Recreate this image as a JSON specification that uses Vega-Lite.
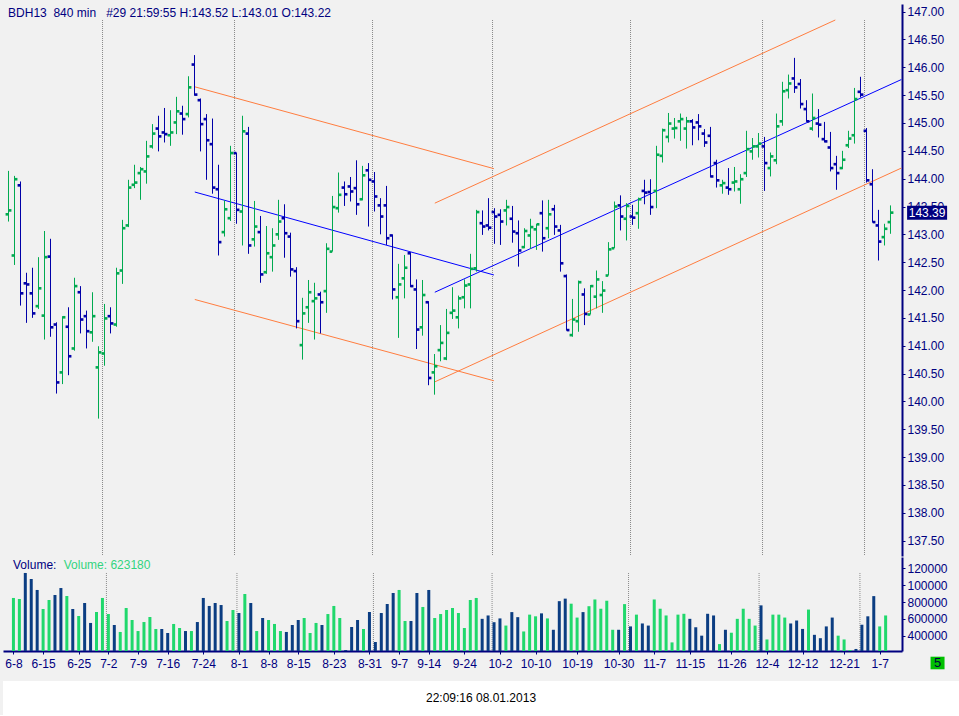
{
  "$schema": "https://vega.github.io/schema/vega-lite/v6.json",
  "background": "#f1f1f1",
  "padding": {"left": 3, "top": 4, "right": 0, "bottom": 0},
  "config": {
    "view": {"stroke": null},
    "font": "Liberation Sans",
    "axis": {
      "labelFont": "Liberation Sans",
      "labelFontSize": 12,
      "labelColor": "#000080",
      "labelFlush": false,
      "domainColor": "#000080",
      "domainWidth": 2,
      "tickColor": "#000080",
      "tickSize": 3,
      "grid": false
    }
  },
  "datasets": {
    "bars": [
      {"i":0,"o":143.36,"h":144.14,"l":143.23,"c":143.43,"v":848000,"dir":"u"},
      {"i":1,"o":142.62,"h":144.05,"l":142.45,"c":143.99,"v":836000,"dir":"u"},
      {"i":2,"o":143.88,"h":143.95,"l":141.72,"c":141.94,"v":1145000,"dir":"d"},
      {"i":3,"o":142.12,"h":142.31,"l":141.41,"c":142.10,"v":1073000,"dir":"d"},
      {"i":4,"o":141.94,"h":142.40,"l":141.50,"c":141.58,"v":943000,"dir":"d"},
      {"i":5,"o":141.71,"h":142.59,"l":141.66,"c":142.03,"v":717000,"dir":"u"},
      {"i":6,"o":141.54,"h":143.06,"l":141.11,"c":142.59,"v":824000,"dir":"u"},
      {"i":7,"o":142.60,"h":142.92,"l":141.16,"c":141.33,"v":883000,"dir":"d"},
      {"i":8,"o":141.38,"h":141.42,"l":140.14,"c":140.34,"v":966000,"dir":"d"},
      {"i":9,"o":140.52,"h":141.53,"l":140.31,"c":141.51,"v":871000,"dir":"u"},
      {"i":10,"o":141.34,"h":141.69,"l":140.47,"c":140.81,"v":717000,"dir":"d"},
      {"i":11,"o":140.95,"h":142.22,"l":140.91,"c":142.07,"v":634000,"dir":"u"},
      {"i":12,"o":141.96,"h":142.07,"l":141.22,"c":141.47,"v":788000,"dir":"d"},
      {"i":13,"o":141.53,"h":141.63,"l":140.95,"c":141.26,"v":551000,"dir":"d"},
      {"i":14,"o":141.24,"h":141.96,"l":141.07,"c":141.53,"v":681000,"dir":"u"},
      {"i":15,"o":140.61,"h":140.99,"l":139.69,"c":140.88,"v":848000,"dir":"u"},
      {"i":16,"o":140.86,"h":141.75,"l":140.64,"c":141.49,"v":657000,"dir":"u"},
      {"i":17,"o":141.53,"h":141.69,"l":141.22,"c":141.40,"v":527000,"dir":"d"},
      {"i":18,"o":141.38,"h":142.40,"l":141.34,"c":142.30,"v":444000,"dir":"u"},
      {"i":19,"o":142.35,"h":143.26,"l":142.11,"c":143.11,"v":729000,"dir":"u"},
      {"i":20,"o":143.16,"h":143.98,"l":143.13,"c":143.84,"v":586000,"dir":"u"},
      {"i":21,"o":143.89,"h":144.25,"l":143.83,"c":143.93,"v":455000,"dir":"u"},
      {"i":22,"o":144.10,"h":144.21,"l":143.62,"c":144.17,"v":562000,"dir":"u"},
      {"i":23,"o":144.13,"h":144.68,"l":143.91,"c":144.40,"v":622000,"dir":"u"},
      {"i":24,"o":144.58,"h":144.98,"l":144.54,"c":144.81,"v":479000,"dir":"u"},
      {"i":25,"o":144.90,"h":145.13,"l":144.49,"c":144.76,"v":479000,"dir":"d"},
      {"i":26,"o":144.83,"h":145.27,"l":144.65,"c":144.80,"v":432000,"dir":"d"},
      {"i":27,"o":144.78,"h":145.23,"l":144.59,"c":144.83,"v":539000,"dir":"u"},
      {"i":28,"o":145.01,"h":145.47,"l":144.80,"c":145.21,"v":491000,"dir":"u"},
      {"i":29,"o":145.17,"h":145.31,"l":144.79,"c":145.07,"v":455000,"dir":"d"},
      {"i":30,"o":145.16,"h":145.84,"l":145.10,"c":145.64,"v":455000,"dir":"u"},
      {"i":31,"o":146.05,"h":146.22,"l":145.49,"c":145.51,"v":562000,"dir":"d"},
      {"i":32,"o":145.41,"h":145.44,"l":144.49,"c":144.98,"v":848000,"dir":"d"},
      {"i":33,"o":145.07,"h":145.16,"l":143.98,"c":144.69,"v":753000,"dir":"d"},
      {"i":34,"o":144.62,"h":145.08,"l":143.73,"c":143.84,"v":788000,"dir":"d"},
      {"i":35,"o":143.81,"h":144.25,"l":142.62,"c":142.86,"v":764000,"dir":"d"},
      {"i":36,"o":143.04,"h":143.61,"l":142.96,"c":143.45,"v":574000,"dir":"u"},
      {"i":37,"o":143.29,"h":144.59,"l":143.24,"c":144.46,"v":705000,"dir":"u"},
      {"i":38,"o":144.46,"h":144.47,"l":143.19,"c":143.44,"v":669000,"dir":"d"},
      {"i":39,"o":143.41,"h":145.13,"l":142.80,"c":144.85,"v":895000,"dir":"u"},
      {"i":40,"o":144.81,"h":144.93,"l":142.65,"c":142.80,"v":788000,"dir":"d"},
      {"i":41,"o":142.91,"h":143.60,"l":142.78,"c":143.14,"v":455000,"dir":"u"},
      {"i":42,"o":143.04,"h":143.33,"l":142.13,"c":142.28,"v":610000,"dir":"d"},
      {"i":43,"o":142.32,"h":143.15,"l":142.29,"c":142.66,"v":586000,"dir":"u"},
      {"i":44,"o":142.59,"h":143.11,"l":142.33,"c":142.80,"v":539000,"dir":"u"},
      {"i":45,"o":143.00,"h":143.62,"l":142.90,"c":143.23,"v":455000,"dir":"u"},
      {"i":46,"o":143.29,"h":143.54,"l":142.58,"c":143.02,"v":444000,"dir":"d"},
      {"i":47,"o":142.96,"h":143.03,"l":142.24,"c":142.37,"v":527000,"dir":"d"},
      {"i":48,"o":142.34,"h":142.41,"l":141.31,"c":141.44,"v":586000,"dir":"d"},
      {"i":49,"o":141.01,"h":141.86,"l":140.75,"c":141.58,"v":610000,"dir":"u"},
      {"i":50,"o":141.69,"h":142.18,"l":141.41,"c":141.96,"v":432000,"dir":"u"},
      {"i":51,"o":141.80,"h":142.13,"l":141.11,"c":141.85,"v":551000,"dir":"u"},
      {"i":52,"o":141.92,"h":141.97,"l":141.22,"c":141.78,"v":527000,"dir":"d"},
      {"i":53,"o":141.98,"h":142.84,"l":141.59,"c":142.74,"v":657000,"dir":"u"},
      {"i":54,"o":142.69,"h":143.69,"l":142.69,"c":143.49,"v":753000,"dir":"u"},
      {"i":55,"o":143.47,"h":144.11,"l":143.39,"c":143.71,"v":610000,"dir":"u"},
      {"i":56,"o":143.84,"h":143.95,"l":143.51,"c":143.72,"v":230000,"dir":"d"},
      {"i":57,"o":143.86,"h":144.03,"l":143.59,"c":143.77,"v":503000,"dir":"d"},
      {"i":58,"o":143.83,"h":144.33,"l":143.35,"c":143.54,"v":586000,"dir":"d"},
      {"i":59,"o":143.63,"h":144.23,"l":143.61,"c":144.06,"v":479000,"dir":"u"},
      {"i":60,"o":144.15,"h":144.28,"l":143.14,"c":143.98,"v":681000,"dir":"d"},
      {"i":61,"o":143.95,"h":144.12,"l":143.41,"c":143.68,"v":325000,"dir":"d"},
      {"i":62,"o":143.52,"h":143.65,"l":143.00,"c":143.32,"v":669000,"dir":"d"},
      {"i":63,"o":143.52,"h":143.87,"l":142.81,"c":142.93,"v":776000,"dir":"d"},
      {"i":64,"o":142.98,"h":143.00,"l":141.83,"c":142.01,"v":907000,"dir":"d"},
      {"i":65,"o":141.87,"h":142.47,"l":141.14,"c":142.10,"v":943000,"dir":"u"},
      {"i":66,"o":142.21,"h":142.63,"l":141.85,"c":142.40,"v":574000,"dir":"u"},
      {"i":67,"o":142.66,"h":142.68,"l":142.05,"c":142.07,"v":574000,"dir":"d"},
      {"i":68,"o":142.01,"h":142.19,"l":140.94,"c":141.29,"v":907000,"dir":"d"},
      {"i":69,"o":141.33,"h":142.18,"l":141.18,"c":141.91,"v":741000,"dir":"u"},
      {"i":70,"o":141.78,"h":141.80,"l":140.29,"c":140.42,"v":943000,"dir":"d"},
      {"i":71,"o":140.52,"h":140.85,"l":140.12,"c":140.63,"v":610000,"dir":"u"},
      {"i":72,"o":140.92,"h":141.37,"l":140.72,"c":141.05,"v":657000,"dir":"u"},
      {"i":73,"o":140.77,"h":141.66,"l":140.74,"c":141.23,"v":705000,"dir":"u"},
      {"i":74,"o":141.59,"h":142.05,"l":141.48,"c":141.63,"v":729000,"dir":"u"},
      {"i":75,"o":141.51,"h":141.90,"l":141.31,"c":141.85,"v":669000,"dir":"u"},
      {"i":76,"o":141.87,"h":142.19,"l":141.67,"c":142.08,"v":491000,"dir":"u"},
      {"i":77,"o":142.10,"h":142.65,"l":141.67,"c":142.38,"v":824000,"dir":"u"},
      {"i":78,"o":142.39,"h":143.44,"l":142.33,"c":143.40,"v":848000,"dir":"u"},
      {"i":79,"o":143.20,"h":143.43,"l":142.99,"c":143.14,"v":600000,"dir":"d"},
      {"i":80,"o":143.16,"h":143.65,"l":143.07,"c":143.12,"v":640000,"dir":"d"},
      {"i":81,"o":143.40,"h":143.47,"l":142.83,"c":143.32,"v":560000,"dir":"d"},
      {"i":82,"o":143.35,"h":143.45,"l":142.81,"c":143.23,"v":605000,"dir":"d"},
      {"i":83,"o":143.43,"h":143.62,"l":143.16,"c":143.49,"v":520000,"dir":"u"},
      {"i":84,"o":143.28,"h":143.51,"l":142.85,"c":143.05,"v":680000,"dir":"d"},
      {"i":85,"o":143.02,"h":143.25,"l":142.42,"c":142.71,"v":620000,"dir":"d"},
      {"i":86,"o":142.77,"h":143.11,"l":142.75,"c":143.06,"v":450000,"dir":"u"},
      {"i":87,"o":142.98,"h":143.28,"l":142.74,"c":143.13,"v":650000,"dir":"u"},
      {"i":88,"o":143.09,"h":143.19,"l":142.72,"c":143.18,"v":630000,"dir":"u"},
      {"i":89,"o":143.38,"h":143.61,"l":142.69,"c":142.93,"v":665000,"dir":"d"},
      {"i":90,"o":143.11,"h":143.62,"l":142.93,"c":143.36,"v":605000,"dir":"u"},
      {"i":91,"o":143.45,"h":143.53,"l":142.99,"c":143.14,"v":470000,"dir":"d"},
      {"i":92,"o":143.07,"h":143.17,"l":142.33,"c":142.48,"v":810000,"dir":"d"},
      {"i":93,"o":142.25,"h":142.28,"l":141.27,"c":141.28,"v":840000,"dir":"d"},
      {"i":94,"o":141.19,"h":141.84,"l":141.16,"c":141.47,"v":780000,"dir":"u"},
      {"i":95,"o":141.44,"h":142.17,"l":141.25,"c":142.14,"v":615000,"dir":"u"},
      {"i":96,"o":141.92,"h":142.03,"l":141.37,"c":141.57,"v":680000,"dir":"d"},
      {"i":97,"o":141.56,"h":142.09,"l":141.56,"c":142.07,"v":750000,"dir":"u"},
      {"i":98,"o":141.88,"h":142.35,"l":141.67,"c":142.19,"v":830000,"dir":"u"},
      {"i":99,"o":141.91,"h":142.16,"l":141.59,"c":141.99,"v":720000,"dir":"u"},
      {"i":100,"o":142.26,"h":142.86,"l":142.26,"c":142.73,"v":815000,"dir":"u"},
      {"i":101,"o":142.75,"h":143.59,"l":142.75,"c":143.50,"v":470000,"dir":"u"},
      {"i":102,"o":143.52,"h":143.70,"l":143.07,"c":143.32,"v":470000,"dir":"d"},
      {"i":103,"o":143.28,"h":143.56,"l":142.89,"c":143.51,"v":775000,"dir":"u"},
      {"i":104,"o":143.32,"h":143.53,"l":143.17,"c":143.30,"v":510000,"dir":"d"},
      {"i":105,"o":143.38,"h":143.66,"l":143.10,"c":143.63,"v":650000,"dir":"u"},
      {"i":106,"o":143.78,"h":143.98,"l":143.54,"c":143.75,"v":545000,"dir":"d"},
      {"i":107,"o":143.76,"h":143.99,"l":143.35,"c":143.49,"v":520000,"dir":"d"},
      {"i":108,"o":143.78,"h":144.59,"l":143.47,"c":144.43,"v":830000,"dir":"u"},
      {"i":109,"o":144.41,"h":144.90,"l":144.29,"c":144.87,"v":720000,"dir":"u"},
      {"i":110,"o":144.75,"h":145.18,"l":144.65,"c":144.99,"v":640000,"dir":"u"},
      {"i":111,"o":144.90,"h":145.09,"l":144.72,"c":144.91,"v":320000,"dir":"u"},
      {"i":112,"o":145.03,"h":145.17,"l":144.68,"c":145.07,"v":650000,"dir":"u"},
      {"i":113,"o":144.90,"h":145.11,"l":144.54,"c":145.03,"v":660000,"dir":"u"},
      {"i":114,"o":145.03,"h":145.07,"l":144.60,"c":144.92,"v":600000,"dir":"d"},
      {"i":115,"o":145.01,"h":145.16,"l":144.69,"c":144.94,"v":500000,"dir":"d"},
      {"i":116,"o":144.81,"h":144.89,"l":144.57,"c":144.65,"v":400000,"dir":"d"},
      {"i":117,"o":144.77,"h":144.93,"l":144.02,"c":144.04,"v":660000,"dir":"d"},
      {"i":118,"o":144.28,"h":144.34,"l":143.84,"c":143.97,"v":640000,"dir":"d"},
      {"i":119,"o":143.88,"h":143.98,"l":143.73,"c":143.92,"v":300000,"dir":"u"},
      {"i":120,"o":143.84,"h":144.19,"l":143.71,"c":143.81,"v":470000,"dir":"d"},
      {"i":121,"o":143.93,"h":144.21,"l":143.77,"c":143.95,"v":435000,"dir":"u"},
      {"i":122,"o":143.81,"h":144.08,"l":143.55,"c":143.99,"v":600000,"dir":"u"},
      {"i":123,"o":144.10,"h":144.86,"l":144.03,"c":144.53,"v":720000,"dir":"u"},
      {"i":124,"o":144.49,"h":144.73,"l":144.34,"c":144.58,"v":600000,"dir":"u"},
      {"i":125,"o":144.58,"h":144.82,"l":144.38,"c":144.63,"v":520000,"dir":"u"},
      {"i":126,"o":144.58,"h":144.75,"l":143.78,"c":144.28,"v":760000,"dir":"d"},
      {"i":127,"o":144.19,"h":144.47,"l":144.04,"c":144.40,"v":355000,"dir":"u"},
      {"i":128,"o":144.33,"h":145.17,"l":144.26,"c":144.94,"v":650000,"dir":"u"},
      {"i":129,"o":145.03,"h":145.74,"l":144.95,"c":145.57,"v":650000,"dir":"u"},
      {"i":130,"o":145.59,"h":145.87,"l":145.44,"c":145.71,"v":615000,"dir":"u"},
      {"i":131,"o":145.80,"h":146.17,"l":145.54,"c":145.64,"v":545000,"dir":"d"},
      {"i":132,"o":145.70,"h":145.79,"l":145.26,"c":145.34,"v":580000,"dir":"d"},
      {"i":133,"o":145.25,"h":145.41,"l":145.02,"c":145.03,"v":480000,"dir":"d"},
      {"i":134,"o":144.90,"h":145.53,"l":144.86,"c":145.09,"v":710000,"dir":"u"},
      {"i":135,"o":144.99,"h":145.25,"l":144.74,"c":144.97,"v":410000,"dir":"d"},
      {"i":136,"o":144.71,"h":145.02,"l":144.65,"c":144.67,"v":370000,"dir":"d"},
      {"i":137,"o":144.56,"h":144.84,"l":144.13,"c":144.19,"v":510000,"dir":"d"},
      {"i":138,"o":144.26,"h":144.41,"l":143.80,"c":144.10,"v":615000,"dir":"d"},
      {"i":139,"o":144.19,"h":144.50,"l":144.17,"c":144.34,"v":400000,"dir":"u"},
      {"i":140,"o":144.60,"h":144.86,"l":144.55,"c":144.72,"v":355000,"dir":"u"},
      {"i":141,"o":144.78,"h":145.63,"l":144.63,"c":145.43,"v":230000,"dir":"u"},
      {"i":142,"o":145.56,"h":145.83,"l":145.46,"c":145.51,"v":242000,"dir":"d"},
      {"i":143,"o":144.86,"h":144.91,"l":143.93,"c":143.97,"v":530000,"dir":"d"},
      {"i":144,"o":143.90,"h":144.17,"l":143.21,"c":143.22,"v":630000,"dir":"d"},
      {"i":145,"o":143.16,"h":143.44,"l":142.53,"c":142.87,"v":870000,"dir":"d"},
      {"i":146,"o":142.95,"h":143.19,"l":142.80,"c":143.10,"v":510000,"dir":"u"},
      {"i":147,"o":143.22,"h":143.52,"l":143.01,"c":143.39,"v":640000,"dir":"u"}
    ],
    "lines": [
      {"id":"a","role":"band","i":31.05,"p":145.65},
      {"id":"a","role":"band","i":80.9,"p":144.18},
      {"id":"b","role":"mid","i":31.05,"p":143.76},
      {"id":"b","role":"mid","i":80.9,"p":142.27},
      {"id":"c","role":"band","i":31.05,"p":141.83},
      {"id":"c","role":"band","i":80.9,"p":140.37},
      {"id":"d","role":"band","i":71.05,"p":140.35},
      {"id":"d","role":"band","i":148.8,"p":144.19},
      {"id":"e","role":"mid","i":71.05,"p":141.96},
      {"id":"e","role":"mid","i":148.8,"p":145.78},
      {"id":"f","role":"band","i":71.05,"p":143.56},
      {"id":"f","role":"band","i":137.8,"p":146.85}
    ],
    "months": [
      {"m":15.67},{"m":37.67},{"m":60.67},{"m":80.67},{"m":103.67},{"m":125.67},{"m":142.67}
    ]
  },
  "spacing": 11,
  "vconcat": [
    {
      "spacing": 1,
      "resolve": {"scale": {"color": "independent"}},
      "vconcat": [
        {
          "width": 899,
          "height": 552,
          "layer": [
            {
              "data": {"name": "months"},
              "mark": {"type": "rule", "strokeDash": [1, 1], "color": "#8a8a8a"},
              "encoding": {
                "x": {"field": "m", "type": "quantitative", "scale": {"domain": [-0.9167, 148.9167], "nice": false, "zero": false}, "axis": null},
                "y": {"datum": 146.85, "type": "quantitative", "scale": {"domain": [137.222, 147.1376], "nice": false, "zero": false},
                  "axis": {"orient": "right", "title": null, "labelFlush": false, "values": [137.5,138,138.5,139,139.5,140,140.5,141,141.5,142,142.5,143,143.5,144,144.5,145,145.5,146,146.5,147], "format": ".2f", "labelPadding": 2}},
                "y2": {"datum": 137.24}
              }
            },
            {
              "data": {"name": "lines"},
              "mark": {"type": "line", "strokeWidth": 1},
              "encoding": {
                "x": {"field": "i", "type": "quantitative", "scale": {"domain": [-0.9167, 148.9167], "nice": false, "zero": false}, "axis": null},
                "y": {"field": "p", "type": "quantitative", "scale": {"domain": [137.222, 147.1376], "nice": false, "zero": false},
                  "axis": {"orient": "right", "title": null, "labelFlush": false, "values": [137.5,138,138.5,139,139.5,140,140.5,141,141.5,142,142.5,143,143.5,144,144.5,145,145.5,146,146.5,147], "format": ".2f", "labelPadding": 2}},
                "detail": {"field": "id"},
                "color": {"field": "role", "type": "nominal", "scale": {"domain": ["u", "d", "band", "mid"], "range": ["#00aa50", "#0000a8", "#ff7d3f", "#0000ff"]}, "legend": null}
              }
            },
            {
              "data": {"name": "bars"},
              "mark": {"type": "rule", "strokeWidth": 1},
              "encoding": {
                "x": {"field": "i", "type": "quantitative", "scale": {"domain": [-0.9167, 148.9167], "nice": false, "zero": false}, "axis": null},
                "y": {"field": "l", "type": "quantitative", "scale": {"domain": [137.222, 147.1376], "nice": false, "zero": false},
                  "axis": {"orient": "right", "title": null, "labelFlush": false, "values": [137.5,138,138.5,139,139.5,140,140.5,141,141.5,142,142.5,143,143.5,144,144.5,145,145.5,146,146.5,147], "format": ".2f", "labelPadding": 2}},
                "y2": {"field": "h"},
                "color": {"field": "dir", "type": "nominal", "scale": {"domain": ["u", "d", "band", "mid"], "range": ["#00aa50", "#0000a8", "#ff7d3f", "#0000ff"]}, "legend": null}
              }
            },
            {
              "data": {"name": "bars"},
              "mark": {"type": "point", "shape": "square", "filled": true, "size": 7, "opacity": 1, "xOffset": -1.6},
              "encoding": {
                "x": {"field": "i", "type": "quantitative", "scale": {"domain": [-0.9167, 148.9167], "nice": false, "zero": false}, "axis": null},
                "y": {"field": "o", "type": "quantitative", "scale": {"domain": [137.222, 147.1376], "nice": false, "zero": false},
                  "axis": {"orient": "right", "title": null, "labelFlush": false, "values": [137.5,138,138.5,139,139.5,140,140.5,141,141.5,142,142.5,143,143.5,144,144.5,145,145.5,146,146.5,147], "format": ".2f", "labelPadding": 2}},
                "color": {"field": "dir", "type": "nominal", "scale": {"domain": ["u", "d", "band", "mid"], "range": ["#00aa50", "#0000a8", "#ff7d3f", "#0000ff"]}, "legend": null}
              }
            },
            {
              "data": {"name": "bars"},
              "mark": {"type": "point", "shape": "square", "filled": true, "size": 7, "opacity": 1, "xOffset": 1.6},
              "encoding": {
                "x": {"field": "i", "type": "quantitative", "scale": {"domain": [-0.9167, 148.9167], "nice": false, "zero": false}, "axis": null},
                "y": {"field": "c", "type": "quantitative", "scale": {"domain": [137.222, 147.1376], "nice": false, "zero": false},
                  "axis": {"orient": "right", "title": null, "labelFlush": false, "values": [137.5,138,138.5,139,139.5,140,140.5,141,141.5,142,142.5,143,143.5,144,144.5,145,145.5,146,146.5,147], "format": ".2f", "labelPadding": 2}},
                "color": {"field": "dir", "type": "nominal", "scale": {"domain": ["u", "d", "band", "mid"], "range": ["#00aa50", "#0000a8", "#ff7d3f", "#0000ff"]}, "legend": null}
              }
            },
            {
              "data": {"name": "bars"},
              "transform": [{"filter": "datum.i == 147"}],
              "mark": {"type": "point", "shape": "M-1,-0.35L1,-0.35L1,0.35L-1,0.35Z", "filled": true, "size": 1600, "opacity": 1, "color": "#000080"},
              "encoding": {
                "x": {"datum": 153.1, "type": "quantitative", "scale": {"domain": [-0.9167, 148.9167], "nice": false, "zero": false}, "axis": null},
                "y": {"field": "c", "type": "quantitative", "scale": {"domain": [137.222, 147.1376], "nice": false, "zero": false},
                  "axis": {"orient": "right", "title": null, "labelFlush": false, "values": [137.5,138,138.5,139,139.5,140,140.5,141,141.5,142,142.5,143,143.5,144,144.5,145,145.5,146,146.5,147], "format": ".2f", "labelPadding": 2}}
              }
            },
            {
              "data": {"name": "bars"},
              "transform": [{"filter": "datum.i == 147"}],
              "mark": {"type": "text", "color": "#ffffff", "fontSize": 12, "font": "Liberation Sans", "align": "center", "baseline": "middle"},
              "encoding": {
                "x": {"datum": 153.1, "type": "quantitative", "scale": {"domain": [-0.9167, 148.9167], "nice": false, "zero": false}, "axis": null},
                "y": {"field": "c", "type": "quantitative", "scale": {"domain": [137.222, 147.1376], "nice": false, "zero": false},
                  "axis": {"orient": "right", "title": null, "labelFlush": false, "values": [137.5,138,138.5,139,139.5,140,140.5,141,141.5,142,142.5,143,143.5,144,144.5,145,145.5,146,146.5,147], "format": ".2f", "labelPadding": 2}},
                "text": {"field": "c", "type": "quantitative", "format": ".2f"}
              }
            },
            {
              "data": {"values": [{"t": "BDH13\u00a0\u00a0840 min\u00a0\u00a0\u00a0#29 21:59:55 H:143.52 L:143.01 O:143.22"}]},
              "mark": {"type": "text", "color": "#000080", "fontSize": 12, "font": "Liberation Sans", "align": "left", "baseline": "alphabetic"},
              "encoding": {
                "x": {"datum": -0.07, "type": "quantitative", "scale": {"domain": [-0.9167, 148.9167], "nice": false, "zero": false}, "axis": null},
                "y": {"datum": 146.899, "type": "quantitative", "scale": {"domain": [137.222, 147.1376], "nice": false, "zero": false},
                  "axis": {"orient": "right", "title": null, "labelFlush": false, "values": [137.5,138,138.5,139,139.5,140,140.5,141,141.5,142,142.5,143,143.5,144,144.5,145,145.5,146,146.5,147], "format": ".2f", "labelPadding": 2}},
                "text": {"field": "t"}
              }
            }
          ]
        },
        {
          "width": 899,
          "height": 94,
          "layer": [
            {
              "data": {"name": "months"},
              "mark": {"type": "rule", "strokeDash": [1, 1], "color": "#8a8a8a"},
              "encoding": {
                "x": {"field": "m", "type": "quantitative", "scale": {"domain": [-0.9167, 148.9167], "nice": false, "zero": false},
                  "axis": {"orient": "bottom", "title": null, "labelFlush": false, "labelPadding": 4, "labelOverlap": false,
                    "values": [0,5,11,16,21,26,32,38,43,48,54,60,65,70,76,82,88,95,102,108,114,121,127,133,140,146],
                    "labelExpr": "['6-8','6-15','6-25','7-2','7-9','7-16','7-24','8-1','8-8','8-15','8-23','8-31','9-7','9-14','9-24','10-2','10-10','10-19','10-30','11-7','11-15','11-26','12-4','12-12','12-21','1-7'][indexof([0,5,11,16,21,26,32,38,43,48,54,60,65,70,76,82,88,95,102,108,114,121,127,133,140,146], datum.value)]"}},
                "y": {"datum": 1144558, "type": "quantitative", "scale": {"domain": [217822, 1334654], "nice": false, "zero": false},
                  "axis": {"orient": "right", "title": null, "labelFlush": false, "values": [400000, 600000, 800000, 1000000, 1200000], "format": "d", "labelExpr": "substring(datum.label, 0, 6)", "labelPadding": 2}},
                "y2": {"datum": 217822}
              }
            },
            {
              "data": {"name": "bars"},
              "mark": {"type": "bar", "size": 3, "orient": "vertical"},
              "encoding": {
                "x": {"field": "i", "type": "quantitative", "scale": {"domain": [-0.9167, 148.9167], "nice": false, "zero": false},
                  "axis": {"orient": "bottom", "title": null, "labelFlush": false, "labelPadding": 4, "labelOverlap": false,
                    "values": [0,5,11,16,21,26,32,38,43,48,54,60,65,70,76,82,88,95,102,108,114,121,127,133,140,146],
                    "labelExpr": "['6-8','6-15','6-25','7-2','7-9','7-16','7-24','8-1','8-8','8-15','8-23','8-31','9-7','9-14','9-24','10-2','10-10','10-19','10-30','11-7','11-15','11-26','12-4','12-12','12-21','1-7'][indexof([0,5,11,16,21,26,32,38,43,48,54,60,65,70,76,82,88,95,102,108,114,121,127,133,140,146], datum.value)]"}},
                "y": {"field": "v", "type": "quantitative", "scale": {"domain": [217822, 1334654], "nice": false, "zero": false},
                  "axis": {"orient": "right", "title": null, "labelFlush": false, "values": [400000, 600000, 800000, 1000000, 1200000], "format": "d", "labelExpr": "substring(datum.label, 0, 6)", "labelPadding": 2}},
                "y2": {"datum": 217822},
                "color": {"field": "dir", "type": "nominal", "scale": {"domain": ["u", "d"], "range": ["#20d86c", "#0b3d82"]}, "legend": null}
              }
            },
            {
              "data": {"values": [{"t": "Volume:"}]},
              "mark": {"type": "text", "color": "#000080", "fontSize": 12, "font": "Liberation Sans", "align": "left", "baseline": "alphabetic"},
              "encoding": {
                "x": {"datum": -0.07, "type": "quantitative", "scale": {"domain": [-0.9167, 148.9167], "nice": false, "zero": false},
                  "axis": {"orient": "bottom", "title": null, "labelFlush": false, "labelPadding": 4, "labelOverlap": false,
                    "values": [0,5,11,16,21,26,32,38,43,48,54,60,65,70,76,82,88,95,102,108,114,121,127,133,140,146],
                    "labelExpr": "['6-8','6-15','6-25','7-2','7-9','7-16','7-24','8-1','8-8','8-15','8-23','8-31','9-7','9-14','9-24','10-2','10-10','10-19','10-30','11-7','11-15','11-26','12-4','12-12','12-21','1-7'][indexof([0,5,11,16,21,26,32,38,43,48,54,60,65,70,76,82,88,95,102,108,114,121,127,133,140,146], datum.value)]"}},
                "y": {"datum": 1186140, "type": "quantitative", "scale": {"domain": [217822, 1334654], "nice": false, "zero": false},
                  "axis": {"orient": "right", "title": null, "labelFlush": false, "values": [400000, 600000, 800000, 1000000, 1200000], "format": "d", "labelExpr": "substring(datum.label, 0, 6)", "labelPadding": 2}},
                "text": {"field": "t"}
              }
            },
            {
              "data": {"values": [{"t": "Volume: 623180"}]},
              "mark": {"type": "text", "color": "#33d47f", "fontSize": 12, "font": "Liberation Sans", "align": "left", "baseline": "alphabetic"},
              "encoding": {
                "x": {"datum": 8.47, "type": "quantitative", "scale": {"domain": [-0.9167, 148.9167], "nice": false, "zero": false},
                  "axis": {"orient": "bottom", "title": null, "labelFlush": false, "labelPadding": 4, "labelOverlap": false,
                    "values": [0,5,11,16,21,26,32,38,43,48,54,60,65,70,76,82,88,95,102,108,114,121,127,133,140,146],
                    "labelExpr": "['6-8','6-15','6-25','7-2','7-9','7-16','7-24','8-1','8-8','8-15','8-23','8-31','9-7','9-14','9-24','10-2','10-10','10-19','10-30','11-7','11-15','11-26','12-4','12-12','12-21','1-7'][indexof([0,5,11,16,21,26,32,38,43,48,54,60,65,70,76,82,88,95,102,108,114,121,127,133,140,146], datum.value)]"}},
                "y": {"datum": 1186140, "type": "quantitative", "scale": {"domain": [217822, 1334654], "nice": false, "zero": false},
                  "axis": {"orient": "right", "title": null, "labelFlush": false, "values": [400000, 600000, 800000, 1000000, 1200000], "format": "d", "labelExpr": "substring(datum.label, 0, 6)", "labelPadding": 2}},
                "text": {"field": "t"}
              }
            },
            {
              "data": {"values": [{"n": "5"}]},
              "mark": {"type": "point", "shape": "M-1,-0.9L1,-0.9L1,0.9L-1,0.9Z", "filled": true, "size": 196, "opacity": 1, "color": "#00c000"},
              "encoding": {
                "x": {"datum": 155.75, "type": "quantitative", "scale": {"domain": [-0.9167, 148.9167], "nice": false, "zero": false},
                  "axis": {"orient": "bottom", "title": null, "labelFlush": false, "labelPadding": 4, "labelOverlap": false,
                    "values": [0,5,11,16,21,26,32,38,43,48,54,60,65,70,76,82,88,95,102,108,114,121,127,133,140,146],
                    "labelExpr": "['6-8','6-15','6-25','7-2','7-9','7-16','7-24','8-1','8-8','8-15','8-23','8-31','9-7','9-14','9-24','10-2','10-10','10-19','10-30','11-7','11-15','11-26','12-4','12-12','12-21','1-7'][indexof([0,5,11,16,21,26,32,38,43,48,54,60,65,70,76,82,88,95,102,108,114,121,127,133,140,146], datum.value)]"}},
                "y": {"datum": 75268, "type": "quantitative", "scale": {"domain": [217822, 1334654], "nice": false, "zero": false},
                  "axis": {"orient": "right", "title": null, "labelFlush": false, "values": [400000, 600000, 800000, 1000000, 1200000], "format": "d", "labelExpr": "substring(datum.label, 0, 6)", "labelPadding": 2}}
              }
            },
            {
              "data": {"values": [{"n": "5"}]},
              "mark": {"type": "text", "color": "#00003c", "fontSize": 13, "font": "Liberation Sans", "align": "center", "baseline": "middle"},
              "encoding": {
                "x": {"datum": 155.75, "type": "quantitative", "scale": {"domain": [-0.9167, 148.9167], "nice": false, "zero": false},
                  "axis": {"orient": "bottom", "title": null, "labelFlush": false, "labelPadding": 4, "labelOverlap": false,
                    "values": [0,5,11,16,21,26,32,38,43,48,54,60,65,70,76,82,88,95,102,108,114,121,127,133,140,146],
                    "labelExpr": "['6-8','6-15','6-25','7-2','7-9','7-16','7-24','8-1','8-8','8-15','8-23','8-31','9-7','9-14','9-24','10-2','10-10','10-19','10-30','11-7','11-15','11-26','12-4','12-12','12-21','1-7'][indexof([0,5,11,16,21,26,32,38,43,48,54,60,65,70,76,82,88,95,102,108,114,121,127,133,140,146], datum.value)]"}},
                "y": {"datum": 75268, "type": "quantitative", "scale": {"domain": [217822, 1334654], "nice": false, "zero": false},
                  "axis": {"orient": "right", "title": null, "labelFlush": false, "values": [400000, 600000, 800000, 1000000, 1200000], "format": "d", "labelExpr": "substring(datum.label, 0, 6)", "labelPadding": 2}},
                "text": {"field": "n"}
              }
            }
          ]
        }
      ]
    },
    {
      "width": 956,
      "height": 34,
      "view": {"fill": "#ffffff", "stroke": null},
      "data": {"values": [{"stamp": "22:09:16 08.01.2013"}]},
      "mark": {"type": "text", "color": "#000000", "fontSize": 12, "font": "Liberation Sans"},
      "encoding": {"text": {"field": "stamp"}}
    }
  ]
}
